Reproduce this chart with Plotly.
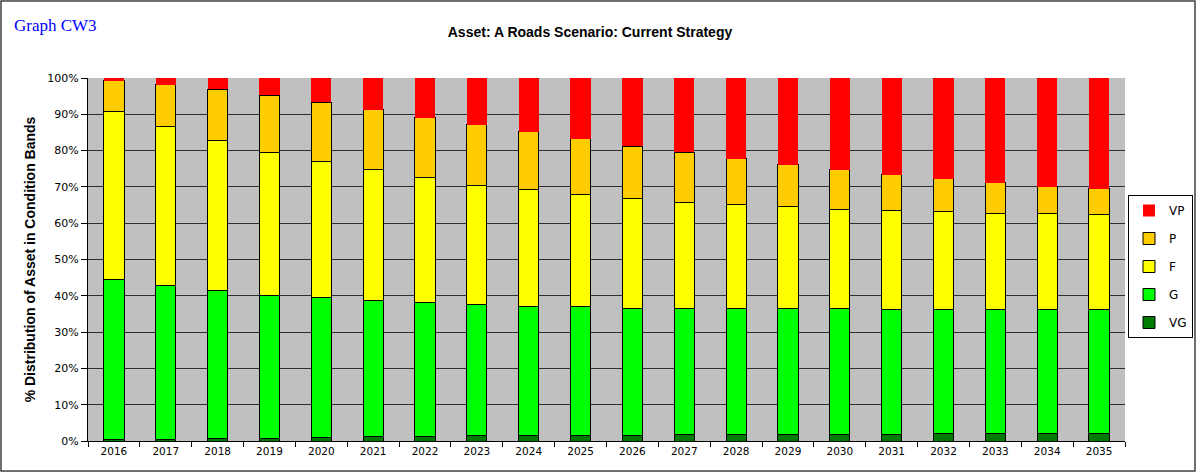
import plotly.graph_objects as go

years = [str(y) for y in range(2016, 2036)]
vg = [0.5, 0.5, 0.8, 0.8, 0.9, 1.2, 1.2, 1.5, 1.5, 1.5, 1.5, 1.8, 1.8, 1.8, 1.8, 1.8, 2.2, 2.2, 2.2, 2.2]
g = [43.9, 42.3, 40.7, 39.2, 38.6, 37.6, 36.9, 36.0, 35.5, 35.6, 35.1, 34.6, 34.6, 34.6, 34.6, 34.3, 33.9, 33.9, 33.9, 33.9]
f = [46.5, 43.8, 41.4, 39.6, 37.4, 35.9, 34.5, 33.0, 32.2, 30.8, 30.2, 29.4, 28.7, 28.1, 27.5, 27.3, 27.0, 26.7, 26.7, 26.3]
p = [8.4, 11.6, 14.0, 15.6, 16.4, 16.6, 16.5, 16.6, 16.0, 15.3, 14.4, 13.7, 12.7, 11.6, 10.8, 10.0, 9.1, 8.4, 7.3, 7.1]
vp = [0.7, 1.8, 3.1, 4.8, 6.7, 8.7, 10.9, 12.9, 14.8, 16.8, 18.8, 20.5, 22.2, 23.9, 25.3, 26.6, 27.8, 28.8, 29.9, 30.5]
y_ticks = [0, 10, 20, 30, 40, 50, 60, 70, 80, 90, 100]
y_tick_text = [f"{v}%" for v in y_ticks]

W, H = 1197, 473
L, R, T, B = 88, 72, 78, 32

series = [
    ("VG", vg, "#007A00", 1, 5),
    ("G", g, "#00FF00", 1, 4),
    ("F", f, "#FFFF00", 1, 3),
    ("P", p, "#FFCC00", 1, 2),
    ("VP", vp, "#FF0000", 0, 1),
]

fig = go.Figure()
for name, vals, col, lw, rank in series:
    fig.add_trace(go.Bar(
        x=years, y=vals, name=name, legendgroup=name, legendrank=rank,
        marker=dict(color=col, line=dict(color="#000000" if lw else col, width=lw)),
    ))

pw = W - L - R
ph = H - T - B
fig.add_shape(type="rect", xref="paper", yref="paper",
              x0=(1 - L) / pw, x1=(W - 2 - L) / pw,
              y0=-(H - 2 - T - ph) / ph, y1=1 + (T - 1) / ph,
              line=dict(color="#404040", width=1.5), layer="below")

tick_font = "DejaVu Sans, Verdana, sans-serif"
fig.update_layout(
    width=W, height=H,
    margin=dict(l=L, r=R, t=T, b=B, autoexpand=False),
    barmode="stack", bargap=0.61,
    plot_bgcolor="#C0C0C0", paper_bgcolor="#FFFFFF",
    font=dict(family=tick_font, size=11, color="#000000"),
    title=dict(text="<b>Asset: A Roads Scenario: Current Strategy</b>",
               x=590 / W, xanchor="center", y=1 - 32 / H, yanchor="middle",
               font=dict(size=14, family="Liberation Sans, Arial")),
    legend=dict(xref="container", yref="container",
                x=1193 / W, xanchor="right", y=1 - 195 / H, yanchor="top",
                traceorder="grouped", bgcolor="#FFFFFF", bordercolor="#000000", borderwidth=1,
                font=dict(size=12, family=tick_font), tracegroupgap=9, itemwidth=30),
    showlegend=True,
    xaxis=dict(type="category", ticks="outside", tickson="boundaries", ticklen=5,
               tickcolor="#000000", showline=True, linecolor="#000000", linewidth=1,
               showgrid=False, tickfont=dict(size=10.5)),
    yaxis=dict(range=[0, 100], tickvals=y_ticks, ticktext=y_tick_text, ticks="outside", ticklen=6,
               tickcolor="#000000", showline=True, linecolor="#000000", linewidth=1,
               showgrid=True, gridcolor="#303030", gridwidth=1, zeroline=False,
               tickfont=dict(size=11), automargin=False,
               title=dict(text="<b>% Distribution of Asset in Condition Bands</b>",
                          font=dict(size=14, family="Liberation Sans, Arial"), standoff=8)),
    annotations=[dict(text="Graph CW3", xref="paper", yref="paper",
                      x=(12 - L) / pw, y=1 + (T - 26) / ph, xanchor="left", yanchor="middle",
                      showarrow=False, font=dict(family="Liberation Serif, Times New Roman", size=17, color="#0000FF"))],
)

fig.write_html("out.html", config={"displayModeBar": False},
               post_script="document.body.style.margin='0';")
